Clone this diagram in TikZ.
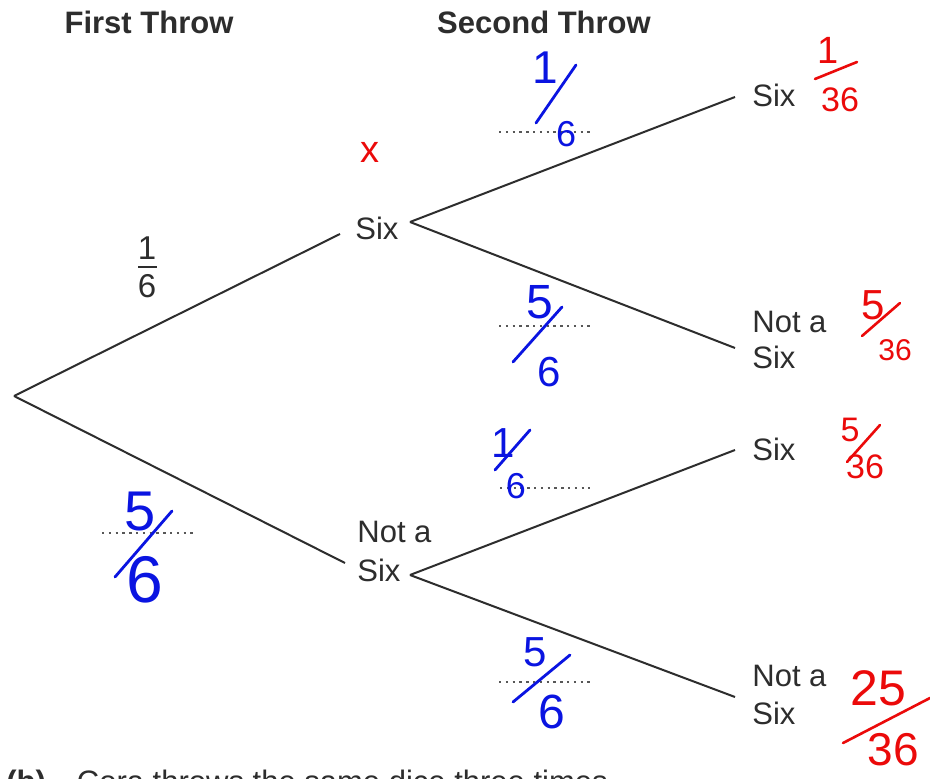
\documentclass[tikz,border=0pt]{standalone}
\usepackage{fontspec}
\setmainfont{Liberation Sans}
\newcommand\hsz[1]{\fontsize{#1}{#1}\selectfont}
\definecolor{inkblue}{RGB}{10,20,225}
\definecolor{inkred}{RGB}{235,10,10}
\definecolor{printgray}{RGB}{45,45,45}
\tikzset{
  txt/.style={font=\hsz{15.5}, text=printgray, inner sep=0pt},
  head/.style={font=\hsz{15.5}\bfseries, text=printgray, inner sep=0pt},
  branch/.style={draw=printgray, line width=1pt},
  dotline/.style={draw=printgray!80, line width=1.1pt, dash pattern=on 1.2pt off 2.2pt},
  bluedig/.style={text=inkblue, inner sep=0pt},
  reddig/.style={text=inkred, inner sep=0pt},
  bluestroke/.style={draw=inkblue, line width=1.4pt, line cap=round},
  redstroke/.style={draw=inkred, line width=1.3pt, line cap=round}
}
\begin{document}
\begin{tikzpicture}[x=0.5pt,y=-0.5pt]
\useasboundingbox (0,0) rectangle (930,779);
\clip (0,0) rectangle (930,779);
\fill[white] (0,0) rectangle (930,779);

% headers
\node[head] (h1) at (149,22) {First Throw};
\node[head] (h2) at (544,22) {Second Throw};

% branch points
\coordinate (root) at (14,396);
\coordinate (a1) at (340,234);
\coordinate (a2) at (345,563);
\coordinate (b1) at (410,222);
\coordinate (b2) at (410,575);
\coordinate (c1) at (735,97);
\coordinate (c2) at (735,348);
\coordinate (c3) at (735,450);
\coordinate (c4) at (735,697);

\draw[branch] (root) -- (a1);
\draw[branch] (root) -- (a2);
\draw[branch] (b1) -- (c1);
\draw[branch] (b1) -- (c2);
\draw[branch] (b2) -- (c3);
\draw[branch] (b2) -- (c4);

% outcome labels
\node[txt, anchor=west] (s1) at (355,228) {Six};
\node[txt, anchor=west] (n1a) at (357,532) {Not a};
\node[txt, anchor=west] (n1b) at (357,570) {Six};
\node[txt, anchor=west] (s2) at (752,95) {Six};
\node[txt, anchor=west] (n2a) at (752,322) {Not a};
\node[txt, anchor=west] (n2b) at (752,357) {Six};
\node[txt, anchor=west] (s3) at (752,449) {Six};
\node[txt, anchor=west] (n3a) at (752,676) {Not a};
\node[txt, anchor=west] (n3b) at (752,713) {Six};

% printed fraction
\node[txt, font=\hsz{16.5}] (pn) at (147,248) {1};
\node[txt, font=\hsz{16.5}] (pd) at (147,286) {6};
\coordinate (pb1) at (138,267);
\coordinate (pb2) at (157,267);
\draw[draw=printgray, line width=0.9pt] (pb1) -- (pb2);

% dotted answer lines
\coordinate (d1a) at (499,132); \coordinate (d1b) at (590,132);
\coordinate (d2a) at (499,326); \coordinate (d2b) at (590,326);
\coordinate (d3a) at (500,488); \coordinate (d3b) at (590,488);
\coordinate (d4a) at (499,682); \coordinate (d4b) at (590,682);
\coordinate (d5a) at (102,533); \coordinate (d5b) at (193,533);
\draw[dotline] (d1a) -- (d1b);
\draw[dotline] (d2a) -- (d2b);
\draw[dotline] (d3a) -- (d3b);
\draw[dotline] (d4a) -- (d4b);
\draw[dotline] (d5a) -- (d5b);

% blue handwritten fractions
\node[bluedig, font=\hsz{23}] (u1n) at (545,68) {1};
\node[bluedig, font=\hsz{18}] (u1d) at (566,134) {6};
\coordinate (u1s) at (536,123); \coordinate (u1e) at (576,65);
\draw[bluestroke] (u1s) -- (u1e);

\node[bluedig, font=\hsz{24}] (u2n) at (540,302) {5};
\node[bluedig, font=\hsz{21}] (u2d) at (549,372) {6};
\coordinate (u2s) at (513,362); \coordinate (u2e) at (562,307);
\draw[bluestroke] (u2s) -- (u2e);

\node[bluedig, font=\hsz{21}] (l1n) at (503,443) {1};
\node[bluedig, font=\hsz{18}] (l1d) at (516,486) {6};
\coordinate (l1s) at (495,470); \coordinate (l1e) at (530,430);
\draw[bluestroke] (l1s) -- (l1e);

\node[bluedig, font=\hsz{21}] (l2n) at (535,652) {5};
\node[bluedig, font=\hsz{24}] (l2d) at (552,712) {6};
\coordinate (l2s) at (513,702); \coordinate (l2e) at (570,655);
\draw[bluestroke] (l2s) -- (l2e);

\node[bluedig, font=\hsz{28}] (f5n) at (140,512) {5};
\node[bluedig, font=\hsz{33}] (f5d) at (145,580) {6};
\coordinate (f5s) at (115,577); \coordinate (f5e) at (172,511);
\draw[bluestroke] (f5s) -- (f5e);

% red marks
\node[reddig, font=\hsz{19}] (rx) at (370,152) {x};

\node[reddig, font=\hsz{19}] (r1n) at (828,50) {1};
\node[reddig, font=\hsz{17}] (r1d) at (840,100) {36};
\coordinate (r1s) at (815,79); \coordinate (r1e) at (857,62);
\draw[redstroke] (r1s) -- (r1e);

\node[reddig, font=\hsz{21}] (r2n) at (873,305) {5};
\node[reddig, font=\hsz{15}] (r2d) at (895,350) {36};
\coordinate (r2s) at (862,336); \coordinate (r2e) at (900,303);
\draw[redstroke] (r2s) -- (r2e);

\node[reddig, font=\hsz{17}] (r3n) at (850,430) {5};
\node[reddig, font=\hsz{17}] (r3d) at (865,467) {36};
\coordinate (r3s) at (847,462); \coordinate (r3e) at (880,425);
\draw[redstroke] (r3s) -- (r3e);

\node[reddig, font=\hsz{25}] (r4n) at (878,688) {25};
\node[reddig, font=\hsz{23}] (r4d) at (893,750) {36};
\coordinate (r4s) at (843,743); \coordinate (r4e) at (930,698);
\draw[redstroke] (r4s) -- (r4e);

% question text, cut off by the lower edge as in the reference
\node[txt, anchor=base west] (q) at (6,792) {\textbf{(b)}\quad Cora throws the same dice three times.};
\end{tikzpicture}
\end{document}
